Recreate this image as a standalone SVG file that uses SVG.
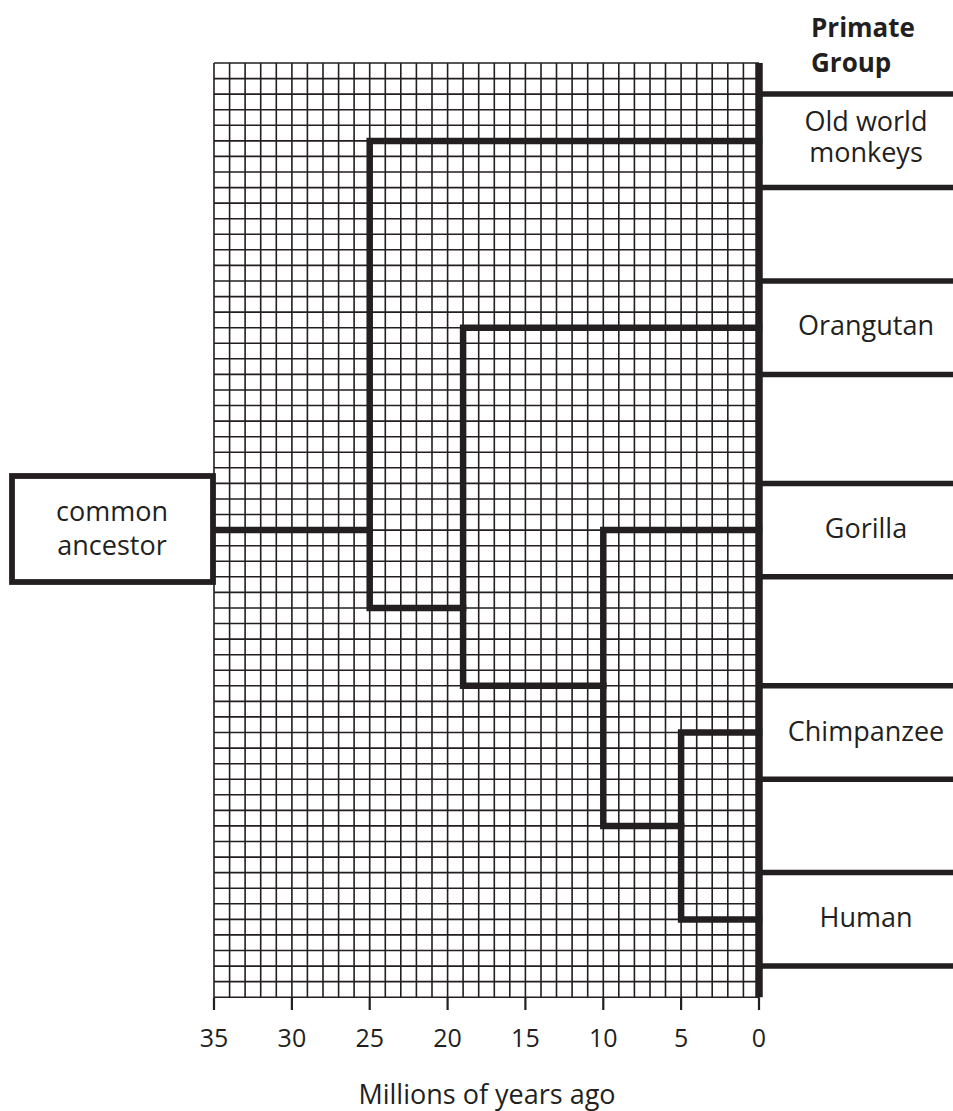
<svg xmlns="http://www.w3.org/2000/svg" width="953" height="1111" viewBox="0 0 953 1111">
<style>
.grid{stroke:#231f20;stroke-width:1.6;fill:none}
.thick{stroke:#231f20;stroke-width:6.5;fill:none;stroke-linecap:square;stroke-linejoin:miter}
.t{font-family:"Open Sans","DejaVu Sans",sans-serif;font-size:27px;fill:#231f20;text-anchor:middle}
.n{font-family:"Open Sans","DejaVu Sans",sans-serif;font-size:25px;fill:#231f20;text-anchor:middle}
.b{font-family:"Open Sans","DejaVu Sans",sans-serif;font-size:26px;fill:#231f20;font-weight:bold}
</style>
<rect width="953" height="1111" fill="#fff"/>
<g id="grid" class="grid">
<path d="M214 63V997.2M229.6 63V997.2M245.1 63V997.2M260.7 63V997.2M276.3 63V997.2M291.9 63V997.2M307.4 63V997.2M323 63V997.2M338.6 63V997.2M354.1 63V997.2M369.7 63V997.2M385.3 63V997.2M400.8 63V997.2M416.4 63V997.2M432 63V997.2M447.6 63V997.2M463.1 63V997.2M478.7 63V997.2M494.3 63V997.2M509.8 63V997.2M525.4 63V997.2M541 63V997.2M556.5 63V997.2M572.1 63V997.2M587.7 63V997.2M603.3 63V997.2M618.8 63V997.2M634.4 63V997.2M650 63V997.2M665.5 63V997.2M681.1 63V997.2M696.7 63V997.2M712.2 63V997.2M727.8 63V997.2M743.4 63V997.2"/>
<path d="M214 63H759M214 78.6H759M214 94.1H759M214 109.7H759M214 125.3H759M214 140.9H759M214 156.4H759M214 172H759M214 187.6H759M214 203.1H759M214 218.7H759M214 234.3H759M214 249.8H759M214 265.4H759M214 281H759M214 296.6H759M214 312.1H759M214 327.7H759M214 343.3H759M214 358.8H759M214 374.4H759M214 390H759M214 405.5H759M214 421.1H759M214 436.7H759M214 452.3H759M214 467.8H759M214 483.4H759M214 499H759M214 514.5H759M214 530.1H759M214 545.7H759M214 561.2H759M214 576.8H759M214 592.4H759M214 608H759M214 623.5H759M214 639.1H759M214 654.7H759M214 670.2H759M214 685.8H759M214 701.4H759M214 716.9H759M214 732.5H759M214 748.1H759M214 763.7H759M214 779.2H759M214 794.8H759M214 810.4H759M214 825.9H759M214 841.5H759M214 857.1H759M214 872.6H759M214 888.2H759M214 903.8H759M214 919.4H759M214 934.9H759M214 950.5H759M214 966.1H759M214 981.6H759M214 997.2H759"/>
<path d="M214 997.2V1010M291.9 997.2V1010M369.7 997.2V1010M447.6 997.2V1010M525.4 997.2V1010M603.3 997.2V1010M681.1 997.2V1010M759 997.2V1010" stroke-width="2.2"/>
</g>
<g id="axis-labels">
<text class="n" x="214" y="1047">35</text>
<text class="n" x="291.9" y="1047">30</text>
<text class="n" x="369.7" y="1047">25</text>
<text class="n" x="447.6" y="1047">20</text>
<text class="n" x="525.4" y="1047">15</text>
<text class="n" x="603.3" y="1047">10</text>
<text class="n" x="681.1" y="1047">5</text>
<text class="n" x="759" y="1047">0</text>
<text class="t" x="487" y="1104" font-size="26">Millions of years ago</text>
</g>
<g id="connectors" class="thick">
<path d="M759 63V997.2" stroke-width="7.5" stroke-linecap="butt"/>
<path d="M759 140.9H369.7V608H463.1"/>
<path d="M216 530.1H369.7"/>
<path d="M759 327.7H463.1V685.8H603.3"/>
<path d="M759 530.1H603.3V825.9H681.1"/>
<path d="M759 732.5H681.1V919.4H759"/>
<path d="M762 94.1H953M762 187.6H953M762 281H953M762 374.4H953M762 483.4H953M762 576.8H953M762 685.8H953M762 779.2H953M762 872.6H953M762 966.1H953" stroke-width="5.5" stroke-linecap="butt"/>
</g>
<g id="header"><text class="b" x="811" y="37">Primate</text><text class="b" x="811" y="72">Group</text></g>
<g id="old-world-monkeys"><text class="t" x="866" y="131">Old world</text><text class="t" x="866" y="162">monkeys</text></g>
<g id="orangutan"><text class="t" x="866" y="335">Orangutan</text></g>
<g id="gorilla"><text class="t" x="866" y="538">Gorilla</text></g>
<g id="chimpanzee"><text class="t" x="866" y="741">Chimpanzee</text></g>
<g id="human"><text class="t" x="866" y="927">Human</text></g>
<g id="common-ancestor">
<rect x="12" y="476" width="201" height="106" fill="#fff" stroke="#231f20" stroke-width="5.8"/>
<text class="t" x="112" y="521">common</text>
<text class="t" x="112" y="555">ancestor</text>
</g>
</svg>
